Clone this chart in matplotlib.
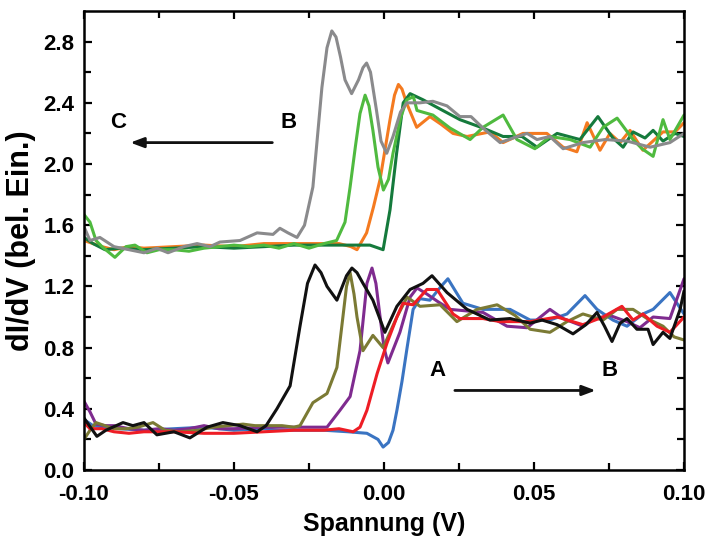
import matplotlib.pyplot as plt
import numpy as np

plt.rcParams['font.family'] = ['Liberation Sans', 'DejaVu Sans']
plt.rcParams['font.weight'] = 'bold'

# upper group (B -> C)
gray_x = [-0.1, -0.098, -0.0947, -0.090, -0.085, -0.080, -0.0757, -0.072, -0.0667, -0.0623, -0.058,
          -0.0547, -0.048, -0.0423, -0.037, -0.0347, -0.032, -0.029, -0.0265, -0.0237, -0.0207,
          -0.019, -0.0174, -0.016, -0.0145, -0.013, -0.0108, -0.0085, -0.007, -0.0058, -0.0045,
          -0.0025, -0.001, 0.0009, 0.003, 0.0055, 0.0076, 0.012, 0.0163, 0.021, 0.0253, 0.029,
          0.033, 0.0387, 0.043, 0.0477, 0.051, 0.0553, 0.0597, 0.0663, 0.0737, 0.081, 0.0887,
          0.0953, 0.1]
gray_y = [1.59, 1.50, 1.52, 1.46, 1.44, 1.42, 1.45, 1.42, 1.46, 1.48, 1.46,
          1.49, 1.50, 1.55, 1.54, 1.58, 1.55, 1.52, 1.60, 1.85, 2.50,
          2.76, 2.87, 2.83, 2.70, 2.55, 2.46, 2.55, 2.63, 2.66, 2.60,
          2.35, 2.15, 2.07, 2.18, 2.34, 2.40, 2.40, 2.41, 2.38, 2.31, 2.31,
          2.235, 2.14, 2.17, 2.20, 2.16, 2.18, 2.10, 2.14, 2.16, 2.15, 2.11,
          2.14, 2.20]

orange_x = [-0.1, -0.097, -0.094, -0.09, -0.085, -0.08, -0.07, -0.06, -0.05, -0.04, -0.03,
            -0.02, -0.015, -0.011, -0.009, -0.0058, -0.0035, -0.0013, 0.002, 0.0035, 0.0048,
            0.006, 0.0075, 0.0109, 0.0153, 0.019, 0.023, 0.0277, 0.0353, 0.0397, 0.0463,
            0.0543, 0.0597, 0.0643, 0.0677, 0.072, 0.0753, 0.0787, 0.082, 0.0863, 0.093,
            0.097, 0.1]
orange_y = [1.50, 1.48, 1.46, 1.44, 1.46, 1.45, 1.46, 1.47, 1.46, 1.48, 1.48,
            1.48, 1.48, 1.46, 1.44, 1.55, 1.72, 1.90, 2.29, 2.45, 2.52,
            2.49, 2.40, 2.24, 2.31, 2.26, 2.20, 2.18, 2.21, 2.14, 2.20,
            2.20, 2.11, 2.08, 2.27, 2.09, 2.20, 2.14, 2.22, 2.09, 2.21,
            2.21, 2.27]

dgreen_x = [-0.1, -0.097, -0.093, -0.088, -0.08, -0.07, -0.06, -0.05, -0.04, -0.03, -0.02,
            -0.012, -0.0047, -0.0003, 0.002, 0.0042, 0.0064, 0.0087, 0.013, 0.0177, 0.0253,
            0.033, 0.0397, 0.046, 0.051, 0.0577, 0.0653, 0.0713, 0.0763, 0.0797, 0.083,
            0.087, 0.0897, 0.093, 0.097, 0.1]
dgreen_y = [1.52, 1.48, 1.44, 1.45, 1.44, 1.45, 1.46, 1.45, 1.46, 1.47, 1.47,
            1.47, 1.47, 1.44, 1.70, 2.07, 2.40, 2.46, 2.42, 2.37, 2.29,
            2.235, 2.18, 2.18, 2.11, 2.20, 2.16, 2.31, 2.17, 2.11, 2.21,
            2.17, 2.22, 2.15, 2.20, 2.18]

lgreen_x = [-0.1, -0.098, -0.096, -0.094, -0.0897, -0.086, -0.083, -0.079, -0.075, -0.07,
            -0.065, -0.06, -0.055, -0.05, -0.045, -0.04, -0.035, -0.03, -0.025, -0.02,
            -0.0158, -0.013, -0.0113, -0.0095, -0.008, -0.0063, -0.005, -0.0037, -0.002, -0.0002,
            0.0015, 0.003, 0.0055, 0.0076, 0.0098, 0.011, 0.0163, 0.022, 0.0287, 0.033,
            0.0397, 0.0443, 0.0503, 0.0553, 0.062, 0.0687, 0.073, 0.0777, 0.083, 0.086,
            0.0897, 0.093, 0.0953, 0.1]
lgreen_y = [1.67, 1.62, 1.50, 1.46, 1.39, 1.46, 1.47, 1.42, 1.44, 1.44,
            1.43, 1.45, 1.46, 1.47, 1.46, 1.47, 1.45, 1.48, 1.45, 1.48,
            1.50, 1.62, 1.85, 2.12, 2.33, 2.45, 2.38, 2.22, 1.98, 1.83,
            1.90, 2.07, 2.30, 2.42, 2.44, 2.35, 2.32, 2.235, 2.16, 2.24,
            2.32, 2.16, 2.10, 2.18, 2.16, 2.11, 2.24, 2.30, 2.16, 2.10,
            2.05, 2.29, 2.16, 2.32]

# lower group (A -> B)
blue_x = [-0.1, -0.097, -0.093, -0.088, -0.08, -0.07, -0.06, -0.05, -0.04, -0.035, -0.03,
          -0.02, -0.012, -0.0057, -0.002, -0.0003, 0.0015, 0.003, 0.0043, 0.006, 0.0077,
          0.0097, 0.012, 0.0153, 0.019, 0.0213, 0.0263, 0.033, 0.042, 0.0487, 0.0553,
          0.061, 0.067, 0.071, 0.0763, 0.081, 0.0863, 0.0897, 0.0953, 0.1]
blue_y = [0.33, 0.29, 0.28, 0.27, 0.26, 0.27, 0.28, 0.26, 0.27, 0.26, 0.26,
          0.26, 0.25, 0.24, 0.20, 0.15, 0.18, 0.26, 0.39, 0.58, 0.80,
          1.05, 1.12, 1.11, 1.20, 1.25, 1.09, 1.05, 1.05, 0.98, 0.98,
          1.02, 1.14, 1.05, 0.98, 0.94, 1.02, 1.05, 1.16, 1.02]

red_x = [-0.1, -0.098, -0.094, -0.09, -0.085, -0.08, -0.07, -0.06, -0.05, -0.04, -0.03,
         -0.02, -0.015, -0.0103, -0.008, -0.0057, -0.0023, 0.001, 0.0043, 0.0063, 0.0097,
         0.0143, 0.0177, 0.023, 0.0253, 0.033, 0.0387, 0.0487, 0.0577, 0.0663, 0.073,
         0.0793, 0.083, 0.0863, 0.091, 0.0953, 0.1]
red_y = [0.31, 0.27, 0.27, 0.25, 0.24, 0.25, 0.25, 0.24, 0.24, 0.25, 0.26,
         0.26, 0.27, 0.25, 0.28, 0.39, 0.63, 0.83, 1.00, 1.09, 1.08,
         1.18, 1.18, 1.02, 0.99, 0.99, 0.97, 0.97, 1.00, 0.95, 1.00,
         1.07, 0.98, 1.02, 0.94, 0.90, 1.00]

purple_x = [-0.1, -0.098, -0.096, -0.093, -0.09, -0.085, -0.08, -0.075, -0.07, -0.065, -0.06,
            -0.055, -0.05, -0.04, -0.03, -0.025, -0.019, -0.0147, -0.0113, -0.008, -0.0057,
            -0.004, -0.0027, -0.0013, 0.0, 0.0013, 0.0053, 0.0087, 0.011, 0.0143, 0.018,
            0.022, 0.033, 0.041, 0.0477, 0.0553, 0.0597, 0.0663, 0.0703, 0.0753, 0.081,
            0.0853, 0.0897, 0.0953, 0.1]
purple_y = [0.45, 0.38, 0.30, 0.29, 0.29, 0.27, 0.26, 0.27, 0.26, 0.27, 0.29,
            0.27, 0.27, 0.28, 0.28, 0.28, 0.28, 0.39, 0.48, 0.78, 1.22,
            1.32, 1.22, 1.00, 0.80, 0.70, 0.90, 1.13, 1.19, 1.15, 1.10,
            1.05, 1.03, 0.94, 0.93, 1.05, 0.99, 0.94, 0.99, 1.01, 0.97,
            0.93, 1.00, 0.99, 1.25]

olive_x = [-0.1, -0.098, -0.096, -0.093, -0.09, -0.086, -0.082, -0.077, -0.073, -0.068, -0.062,
           -0.057, -0.052, -0.047, -0.043, -0.038, -0.034, -0.03, -0.028, -0.0237, -0.019,
           -0.0157, -0.0137, -0.0125, -0.0113, -0.010, -0.009, -0.007, -0.0037, -0.0003, 0.0043,
           0.0077, 0.012, 0.0187, 0.0243, 0.031, 0.0377, 0.0437, 0.0487, 0.0553, 0.061,
           0.0663, 0.073, 0.0777, 0.083, 0.0877, 0.093, 0.0967, 0.1]
olive_y = [0.20, 0.26, 0.31, 0.29, 0.27, 0.27, 0.28, 0.31, 0.26, 0.25, 0.26,
           0.28, 0.29, 0.30, 0.29, 0.29, 0.29, 0.28, 0.29, 0.44, 0.50,
           0.67, 1.00, 1.20, 1.29, 1.15, 1.00, 0.78, 0.88, 0.80, 1.00,
           1.13, 1.07, 1.08, 0.97, 1.05, 1.08, 1.01, 0.92, 0.90, 0.97,
           1.02, 0.98, 1.05, 1.05, 0.99, 0.94, 0.87, 0.85]

black_x = [-0.1, -0.0957, -0.0927, -0.087, -0.0837, -0.080, -0.0757, -0.070, -0.0647, -0.059,
           -0.0537, -0.048, -0.0423, -0.0393, -0.0357, -0.0313, -0.028, -0.0255, -0.023, -0.021,
           -0.019, -0.0157, -0.0125, -0.0107, -0.009, -0.007, -0.0037, 0.0003, 0.0043, 0.0087,
           0.013, 0.016, 0.021, 0.0277, 0.0353, 0.042, 0.0487, 0.0527, 0.0577, 0.063,
           0.0673, 0.071, 0.0735, 0.076, 0.0787, 0.081, 0.0843, 0.088, 0.0897, 0.093,
           0.0953, 0.0987, 0.1]
black_y = [0.34, 0.22, 0.26, 0.31, 0.29, 0.31, 0.23, 0.25, 0.21, 0.28,
           0.31, 0.29, 0.25, 0.29, 0.40, 0.55, 0.94, 1.22, 1.34, 1.29,
           1.20, 1.11, 1.27, 1.32, 1.29, 1.22, 1.11, 0.90, 1.07, 1.18,
           1.22, 1.27, 1.16, 1.05, 0.98, 0.99, 0.96, 0.98, 0.95, 0.89,
           0.95, 1.03, 0.94, 0.84, 0.96, 0.99, 0.92, 0.92, 0.82, 0.90,
           0.86, 1.05, 1.17]

series = [
    (blue_x, blue_y, '#3a74c2'),
    (purple_x, purple_y, '#7f2b8f'),
    (olive_x, olive_y, '#7b7a34'),
    (red_x, red_y, '#ee1d25'),
    (black_x, black_y, '#111111'),
    (orange_x, orange_y, '#f47a20'),
    (dgreen_x, dgreen_y, '#157a3c'),
    (lgreen_x, lgreen_y, '#4fba3f'),
    (gray_x, gray_y, '#8a8a8c'),
]

fig = plt.figure(figsize=(7.10, 5.43), dpi=100)
ax = fig.add_axes([0.1183, 0.1344, 0.8451, 0.8453])

for xs, ys, c in series:
    ax.plot(xs, ys, color=c, lw=2.2, solid_joinstyle='round', solid_capstyle='round')

ax.set_xlim(-0.1, 0.1)
ax.set_ylim(0.0, 3.0)
ax.set_xticks([-0.10, -0.05, 0.00, 0.05, 0.10])
ax.set_xticklabels(['-0.10', '-0.05', '0.00', '0.05', '0.10'])
ax.set_xticks(np.arange(-0.075, 0.1, 0.05), minor=True)
ax.set_yticks(np.arange(0, 2.9, 0.4))
ax.set_yticklabels(['%.1f' % v for v in np.arange(0, 2.9, 0.4)])
ax.set_yticks(np.arange(0.2, 3.0, 0.4), minor=True)

ax.tick_params(which='both', direction='in', top=True, right=True, width=1.6, labelsize=16)
ax.tick_params(axis='x', pad=10)
ax.tick_params(axis='y', pad=7)
ax.tick_params(which='major', length=6)
ax.tick_params(which='minor', length=5)
for s in ax.spines.values():
    s.set_linewidth(1.8)

ax.set_xlabel('Spannung (V)', fontsize=18, fontweight='bold', labelpad=5)
ax.set_ylabel('dI/dV (bel. Ein.)', fontsize=22, fontweight='bold', labelpad=5)

ax.text(-0.0887, 2.27, 'C', fontsize=16, fontweight='bold', ha='center', va='center')
ax.text(-0.0317, 2.27, 'B', fontsize=16, fontweight='bold', ha='center', va='center')
ax.annotate('', xy=(-0.0855, 2.14), xytext=(-0.0363, 2.14),
            arrowprops=dict(arrowstyle='-|>,head_length=0.8,head_width=0.3', color='#111111', lw=2))
ax.text(0.0177, 0.65, 'A', fontsize=16, fontweight='bold', ha='center', va='center')
ax.text(0.0753, 0.65, 'B', fontsize=16, fontweight='bold', ha='center', va='center')
ax.annotate('', xy=(0.0715, 0.52), xytext=(0.0227, 0.52),
            arrowprops=dict(arrowstyle='-|>,head_length=0.8,head_width=0.3', color='#111111', lw=2))

fig.savefig('out.png', dpi=100)
